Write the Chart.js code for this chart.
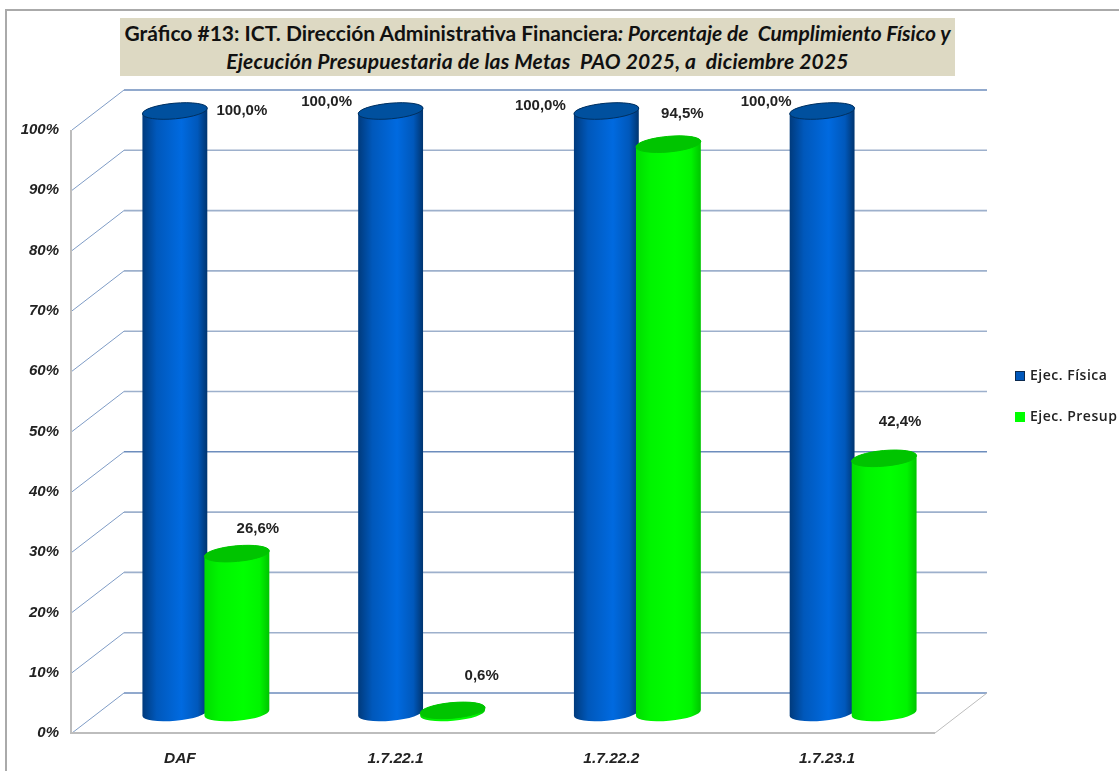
<!DOCTYPE html>
<html>
<head>
<meta charset="utf-8">
<title>Gráfico #13</title>
<script src="https://cdn.jsdelivr.net/npm/chart.js@4"></script>
<style>
  html, body { margin: 0; padding: 0; background: #fff; overflow: hidden; }
  #wrap { position: relative; width: 1119px; height: 771px; }
  #frame { position: absolute; left: 5px; top: 9px; right: 0; bottom: 0; border-top: 2px solid #aaa; border-left: 2px solid #aaa; }
  #title {
    position: absolute; left: 120px; top: 18px; width: 835px; height: 58px;
    background: #ddd9c3; color: #111; text-align: center; white-space: pre;
    font: bold 21px/28px Lato, sans-serif; padding-top: 1px; box-sizing: border-box;
  }
  #title i { font-style: italic; }
  #title .second { letter-spacing: 0.2px; }
  canvas { position: absolute; left: 0; top: 0; }
</style>
</head>
<body>
<div id="wrap">
  <canvas id="grafico" width="1119" height="771"></canvas>
  <div id="frame"></div>
  <div id="title">Gráfico #13: ICT. Dirección Administrativa Financiera<i>: Porcentaje de  Cumplimiento Físico y
<span class="second">Ejecución Presupuestaria de las Metas  PAO 2025, a  diciembre 2025</span></i></div>
</div>
<script>
const categories = ['DAF', '1.7.22.1', '1.7.22.2', '1.7.23.1'];
const seriesNames = ['Ejec. Física', 'Ejec. Presup'];
const ejecFisica = [100, 100, 100, 100];
const ejecPresup = [26.6, 0.6, 94.5, 42.4];

// hand placed value labels, offset from the top of each cylinder
const fisicaLabelOffset = [[68, 0], [-63, -9], [-65, -5], [-55, -9]];
const presupLabelOffset = [[22, -25], [30, -35], [15, -30], [17, -36]];

const DEPTH_X = 52, DEPTH_Y = 40;
const TILT = -0.09, RY = 7.8;

const shades = [
  { edgeL: '#003a7c', mid1: '#0058bb', mid2: '#006ae0', edgeR: '#00346e', top: '#00509e', rim: '#00305f', box: '#0058bb' },
  { edgeL: '#00dc00', mid1: '#00f400', mid2: '#00ff00', edgeR: '#00c400', top: '#00c400', rim: '#00c400', box: '#00ff00' }
];

function drawWalls(ctx, chart) {
  const { chartArea: { left, right, bottom }, scales: { y } } = chart;
  ctx.save();
  y.ticks.forEach(t => {
    const py = y.getPixelForValue(t.value);
    ctx.strokeStyle = '#7f9cc6';
    ctx.lineWidth = 1;
    ctx.beginPath();
    ctx.moveTo(left, py);
    ctx.lineTo(left + DEPTH_X, py - DEPTH_Y);
    ctx.stroke();
    ctx.strokeStyle = (t.value === 100 || t.value === 40 || t.value === 0) ? '#6d8dbd' : '#9db0cc';
    ctx.lineWidth = 1.6;
    ctx.beginPath();
    ctx.moveTo(left + DEPTH_X, py - DEPTH_Y);
    ctx.lineTo(right + DEPTH_X, py - DEPTH_Y);
    ctx.stroke();
  });
  // left edge and floor
  ctx.strokeStyle = '#bdbdbd';
  ctx.lineWidth = 2;
  ctx.beginPath();
  ctx.moveTo(left - 1, y.getPixelForValue(100));
  ctx.lineTo(left - 1, bottom);
  ctx.lineTo(right, bottom);
  ctx.stroke();
  ctx.lineWidth = 1;
  ctx.beginPath();
  ctx.moveTo(right, bottom);
  ctx.lineTo(right + DEPTH_X, bottom - DEPTH_Y);
  ctx.stroke();
  ctx.restore();
}

function drawCylinder(ctx, bar, s) {
  const cx = bar.x + DEPTH_X / 2;
  const topY = bar.y - DEPTH_Y / 2 + 1;
  const baseY = bar.base - DEPTH_Y / 2;
  const rx = bar.width / 2;
  const dx = rx * Math.cos(TILT), dy = rx * Math.sin(TILT);

  const grad = ctx.createLinearGradient(cx - rx, 0, cx + rx, 0);
  grad.addColorStop(0, s.edgeL);
  grad.addColorStop(0.22, s.mid1);
  grad.addColorStop(0.6, s.mid2);
  grad.addColorStop(0.85, s.mid1);
  grad.addColorStop(1, s.edgeR);

  ctx.beginPath();
  ctx.moveTo(cx - dx, topY - dy);
  ctx.lineTo(cx - dx, baseY - dy);
  ctx.ellipse(cx, baseY, rx, RY, TILT, Math.PI, 0, true);
  ctx.lineTo(cx + dx, topY + dy);
  ctx.ellipse(cx, topY, rx, RY, TILT, 0, Math.PI, true);
  ctx.closePath();
  ctx.fillStyle = grad;
  ctx.fill();

  ctx.beginPath();
  ctx.ellipse(cx, topY, rx, RY, TILT, 0, Math.PI * 2);
  ctx.fillStyle = s.top;
  ctx.fill();
  ctx.strokeStyle = s.rim;
  ctx.lineWidth = 1;
  ctx.stroke();
}

const cylinders = {
  id: 'cylinders',
  // replaces the flat rectangles of the bar controller
  beforeDatasetsDraw(chart) {
    const { ctx, data } = chart;
    drawWalls(ctx, chart);

    data.datasets.forEach((ds, i) => {
      chart.getDatasetMeta(i).data.forEach(bar => drawCylinder(ctx, bar, shades[i]));
    });

    ctx.save();
    ctx.font = 'bold 15px "Liberation Sans", Arial, sans-serif';
    ctx.fillStyle = '#222';
    ctx.textAlign = 'center';
    ctx.textBaseline = 'middle';
    const offsets = [fisicaLabelOffset, presupLabelOffset];
    data.datasets.forEach((ds, i) => {
      chart.getDatasetMeta(i).data.forEach((bar, j) => {
        const txt = ds.data[j].toFixed(1).replace('.', ',') + '%';
        const [ox, oy] = offsets[i][j];
        ctx.fillText(txt, bar.x + DEPTH_X / 2 + ox - 1, bar.y - DEPTH_Y / 2 + oy + 1);
      });
    });

    // legend sits right of the floor, the last word runs off the edge
    ctx.font = '600 14px "Open Sans", sans-serif';
    ctx.letterSpacing = '0.5px';
    ctx.textAlign = 'left';
    data.datasets.forEach((ds, i) => {
      const ly = 376 + i * 41;
      ctx.fillStyle = shades[i].box;
      ctx.fillRect(1015, ly - 5, 10, 10);
      if (i === 0) {
        ctx.strokeStyle = '#0b2a4f';
        ctx.lineWidth = 1;
        ctx.strokeRect(1015.5, ly - 4.5, 9, 9);
      }
      ctx.fillStyle = '#222';
      ctx.fillText(ds.label, 1030, ly);
    });
    ctx.restore();
    return false;
  }
};

new Chart(document.getElementById('grafico').getContext('2d'), {
  type: 'bar',
  data: {
    labels: categories,
    datasets: [
      { label: seriesNames[0], data: ejecFisica, backgroundColor: '#0058bb' },
      { label: seriesNames[1], data: ejecPresup, backgroundColor: '#00ff00' }
    ]
  },
  options: {
    responsive: false,
    animation: false,
    categoryPercentage: 0.575,
    barPercentage: 1.05,
    layout: { padding: { top: 130, right: 184, left: 0, bottom: 0 } },
    plugins: { legend: { display: false }, title: { display: false }, tooltip: { enabled: false } },
    scales: {
      x: {
        grid: { display: false },
        border: { display: false },
        afterFit(scale) { scale.height = 38; },
        ticks: { color: '#222', padding: 8, maxRotation: 0, font: { family: '"Liberation Sans"', size: 15.5, style: 'italic', weight: 'bold' } }
      },
      y: {
        min: 0,
        max: 100,
        grid: { display: false },
        border: { display: false },
        afterFit(scale) { scale.width = 72; },
        ticks: {
          stepSize: 10,
          color: '#222',
          padding: 5,
          callback: v => v + '%',
          font: { family: '"Liberation Sans"', size: 15, style: 'italic', weight: 'bold' }
        }
      }
    }
  },
  plugins: [cylinders]
});
</script>
</body>
</html>
